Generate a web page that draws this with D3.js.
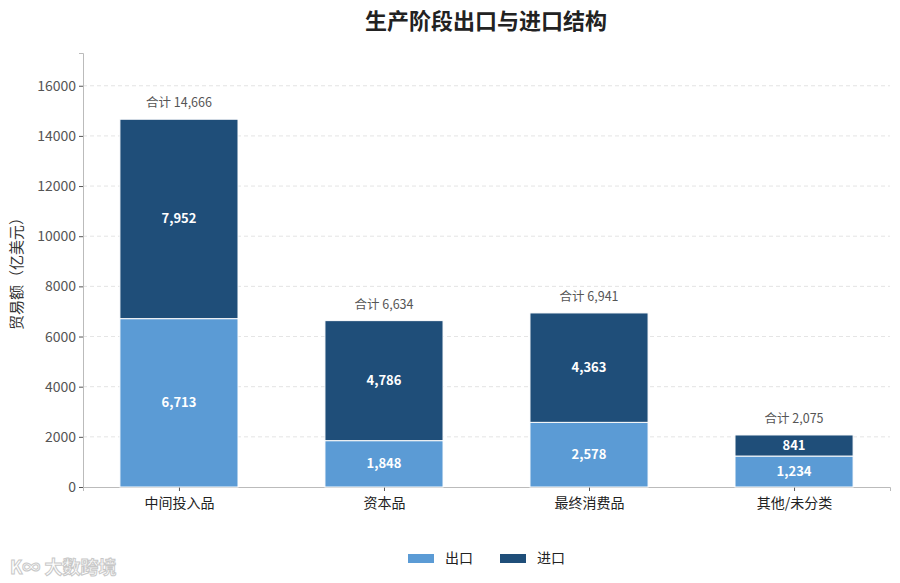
<!DOCTYPE html>
<html>
<head>
<meta charset="utf-8">
<script src="https://cdn.jsdelivr.net/npm/d3@7"></script>
<style>
  body { margin: 0; background: #fff; }
  text { font-family: "Noto Sans CJK SC", "Noto Sans", sans-serif; }
</style>
</head>
<body>
<div id="chart"></div>
<script>
const categories = ["中间投入品", "资本品", "最终消费品", "其他/未分类"];
const exportValues = [6713, 1848, 2578, 1234];
const importValues = [7952, 4786, 4363, 841];
const totalValues = [14666, 6634, 6941, 2075];
const yTicks = [0, 2000, 4000, 6000, 8000, 10000, 12000, 14000, 16000];
const seriesNames = ["出口", "进口"];

const width = 900, height = 583;
const margin = { top: 53, right: 10, bottom: 96, left: 83 };
const colors = ["#5b9bd5", "#1f4e79"];

const svg = d3.select("#chart").append("svg")
  .attr("width", width).attr("height", height);

const x = d3.scaleLinear().domain([-0.468, categories.length - 1 + 0.468])
  .range([margin.left, width - margin.right]);
const y = d3.scaleLinear().domain([0, d3.max(totalValues) * 1.18])
  .range([height - margin.bottom, margin.top]);
const barW = x(0.576) - x(0);

// grid
svg.append("g").selectAll("line").data(yTicks.slice(1)).enter().append("line")
  .attr("x1", margin.left).attr("x2", width - margin.right)
  .attr("y1", d => y(d)).attr("y2", d => y(d))
  .attr("stroke", "#dddddd").attr("stroke-dasharray", "4,3").attr("stroke-width", 0.8);

// axes
const yAxis = svg.append("g").attr("transform", "translate(" + margin.left + ",0)")
  .call(d3.axisLeft(y).tickValues(yTicks).tickFormat(d3.format("d")).tickSizeOuter(0).tickSize(4));
const xAxis = svg.append("g").attr("transform", "translate(0," + (height - margin.bottom) + ")")
  .call(d3.axisBottom(x).tickValues(d3.range(categories.length)).tickFormat(i => categories[i]).tickSizeOuter(0).tickSize(4));
[yAxis, xAxis].forEach(a => {
  a.select(".domain").attr("stroke", "#bbbbbb");
  a.selectAll(".tick line").attr("stroke", "#555");
  a.selectAll("text").attr("fill", "#555").style("font-size", "14px");
});
xAxis.selectAll("text").attr("dy", "1.0em").attr("fill", "#222");

// stacked bars
const stacked = categories.map((c, i) => [
  { s: 0, y0: 0, y1: exportValues[i], v: exportValues[i] },
  { s: 1, y0: exportValues[i], y1: exportValues[i] + importValues[i], v: importValues[i] }
]);
const groups = svg.append("g").selectAll("g").data(stacked).enter().append("g");
groups.each(function(segs, i) {
  const g = d3.select(this);
  g.selectAll("rect").data(segs).enter().append("rect")
    .attr("x", x(i) - barW / 2).attr("width", barW)
    .attr("y", d => y(d.y1)).attr("height", d => y(d.y0) - y(d.y1))
    .attr("fill", d => colors[d.s]).attr("stroke", "#fff").attr("stroke-width", 1);
  g.selectAll("text.val").data(segs).enter().append("text").attr("class", "val")
    .attr("x", x(i)).attr("y", d => (y(d.y0) + y(d.y1)) / 2).attr("dy", "0.35em")
    .attr("text-anchor", "middle").attr("fill", "#fff")
    .style("font-size", "13px").style("font-weight", "bold")
    .text(d => d3.format(",")(d.v));
  g.append("text")
    .attr("x", x(i)).attr("y", y(totalValues[i]) - 12)
    .attr("text-anchor", "middle").attr("fill", "#555").style("font-size", "12.5px")
    .text("合计 " + d3.format(",")(totalValues[i]));
});

// title
svg.append("text").attr("x", 486).attr("y", 29).attr("text-anchor", "middle")
  .style("font-size", "22px").style("font-weight", "bold").attr("fill", "#222")
  .text("生产阶段出口与进口结构");

// y label
svg.append("text").attr("transform", "translate(22," + 270 + ") rotate(-90)")
  .attr("text-anchor", "middle").style("font-size", "15px").attr("fill", "#333")
  .text("贸易额（亿美元）");

// legend
const legend = svg.append("g").attr("transform", "translate(408,558)");
seriesNames.forEach((n, k) => {
  const lg = legend.append("g").attr("transform", "translate(" + (k * 92) + ",0)");
  lg.append("rect").attr("x", 0).attr("y", -4).attr("width", 26).attr("height", 9).attr("fill", colors[k]);
  lg.append("text").attr("x", 37).attr("y", 0).attr("dy", "0.35em")
    .style("font-size", "14px").attr("fill", "#222").text(n);
});

// watermark
svg.append("text").attr("x", 10).attr("y", 574)
  .style("font-size", "18px").style("font-weight", "bold")
  .attr("fill", "#fff").attr("stroke", "#c8c8c8").attr("stroke-width", 1)
  .text("K∞ 大数跨境");
</script>
</body>
</html>
